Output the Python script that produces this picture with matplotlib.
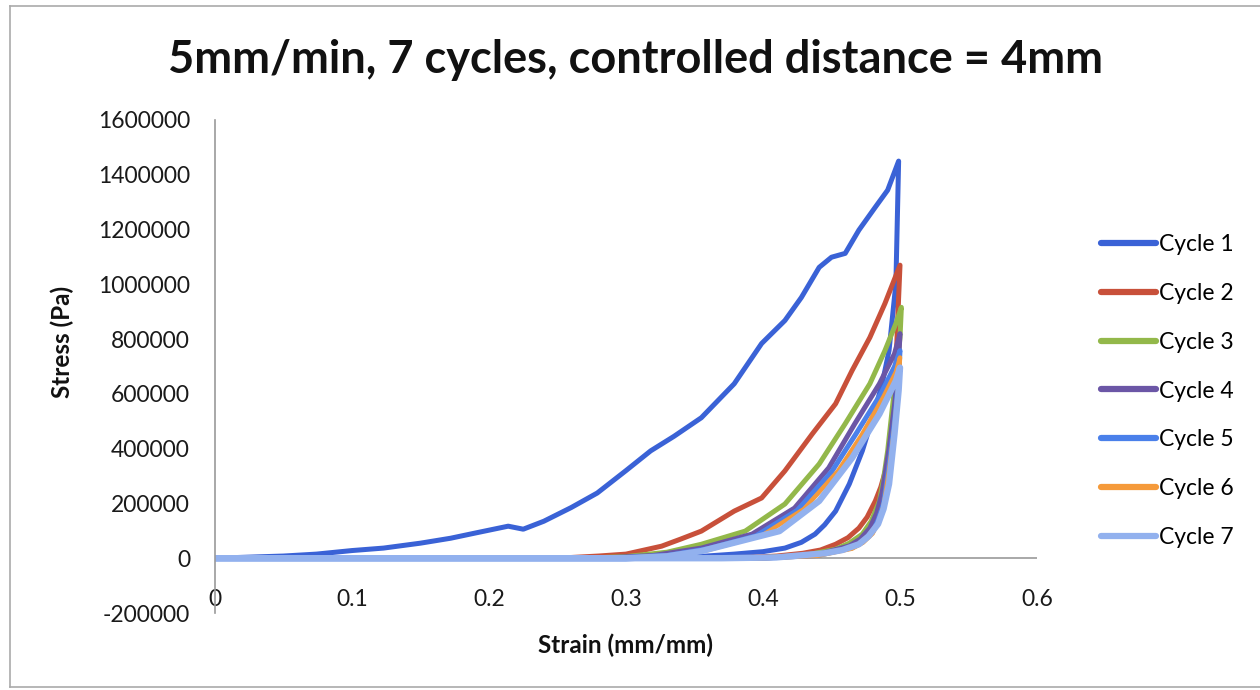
import matplotlib
matplotlib.use("Agg")
import matplotlib.pyplot as plt
from matplotlib.lines import Line2D

plt.rcParams['font.family'] = ['Lato', 'DejaVu Sans']

# strain (mm/mm) and stress (Pa), loading then unloading
c1_strain = [0, 0.05, 0.074, 0.1, 0.123, 0.15, 0.172, 0.19, 0.214, 0.225, 0.24, 0.26, 0.279, 0.30, 0.318, 0.335,
             0.355, 0.379, 0.399, 0.416, 0.428, 0.441, 0.45, 0.46, 0.47, 0.482, 0.491, 0.499,
             0.497, 0.492, 0.487, 0.48, 0.4725, 0.463, 0.453, 0.445, 0.438, 0.428, 0.416, 0.4, 0.379, 0.35, 0.3, 0]
c1_stress = [0, 8000, 15000, 28000, 37000, 55000, 73000, 92000, 117000, 106000, 135000, 185000, 238000, 320000, 392000, 445000,
             513000, 637000, 784000, 868000, 952000, 1062000, 1099000, 1113000, 1198000, 1282000, 1344000, 1450000,
             1004000, 758000, 637000, 513000, 392000, 271000, 172000, 122000, 88000, 58000, 37000, 24000, 15000, 5000, 0, 0]

c2_strain = [0, 0.25, 0.28, 0.3, 0.326, 0.34, 0.355, 0.379, 0.399, 0.416, 0.436, 0.453, 0.465, 0.478, 0.489, 0.5,
             0.499, 0.497, 0.495, 0.49, 0.486, 0.482, 0.476, 0.47, 0.462, 0.453, 0.442, 0.429, 0.41, 0.39, 0.3, 0]
c2_stress = [0, 0, 8000, 15000, 44000, 70000, 99000, 172000, 220000, 319000, 454000, 564000, 685000, 806000, 930000, 1070000,
             952000, 700000, 513000, 330000, 260000, 209000, 150000, 110000, 75000, 51000, 30000, 18000, 8000, 3000, 0, 0]

c3_strain = [0, 0.27, 0.3, 0.33, 0.355, 0.387, 0.416, 0.441, 0.46, 0.478, 0.489, 0.497, 0.501,
             0.5, 0.495, 0.491, 0.488, 0.485, 0.479, 0.4725, 0.463, 0.453, 0.43, 0.39, 0]
c3_stress = [0, 0, 6000, 22000, 51000, 99000, 198000, 344000, 491000, 637000, 758000, 857000, 916000,
             806000, 575000, 392000, 290000, 209000, 135000, 88000, 55000, 33000, 10000, 0, 0]

c4_strain = [0, 0.28, 0.32, 0.355, 0.392, 0.423, 0.448, 0.467, 0.485, 0.496, 0.5,
             0.499, 0.496, 0.492, 0.487, 0.483, 0.478, 0.471, 0.463, 0.44, 0.4, 0]
c4_stress = [0, 0, 10000, 37000, 88000, 183000, 330000, 491000, 637000, 747000, 820000,
             720000, 560000, 400000, 240000, 165000, 110000, 70000, 45000, 14000, 0, 0]

c5_strain = [0, 0.29, 0.33, 0.36, 0.395, 0.425, 0.45, 0.468, 0.486, 0.496, 0.5,
             0.499, 0.496, 0.492, 0.488, 0.484, 0.48, 0.473, 0.465, 0.44, 0.4, 0]
c5_stress = [0, 0, 10000, 35000, 82000, 175000, 315000, 455000, 600000, 700000, 758000,
             660000, 500000, 340000, 200000, 140000, 95000, 60000, 38000, 10000, 0, 0]

c6_strain = [0, 0.29, 0.33, 0.36, 0.4, 0.43, 0.455, 0.472, 0.488, 0.497, 0.5,
             0.499, 0.496, 0.492, 0.488, 0.484, 0.48, 0.473, 0.465, 0.44, 0.4, 0]
c6_stress = [0, 0, 8000, 30000, 85000, 180000, 320000, 450000, 590000, 680000, 733000,
             640000, 480000, 320000, 190000, 130000, 90000, 57000, 35000, 9000, 0, 0]

c7_strain = [0, 0.3, 0.33, 0.355, 0.412, 0.441, 0.465, 0.485, 0.497, 0.5,
             0.499, 0.496, 0.492, 0.488, 0.484, 0.477, 0.47, 0.458, 0.445, 0.41, 0.37, 0]
c7_stress = [0, 0, 7000, 26000, 99000, 209000, 366000, 527000, 648000, 696000,
             612000, 454000, 271000, 180000, 125000, 80000, 51000, 30000, 18000, 3000, 0, 0]

labels = ['Cycle 1', 'Cycle 2', 'Cycle 3', 'Cycle 4', 'Cycle 5', 'Cycle 6', 'Cycle 7']
colors = ['#3a62d6', '#c8503a', '#93b84a', '#6b56a6', '#4a80ea', '#f59a3a', '#92b1ee']
widths = [3.6, 3.6, 3.6, 3.6, 3.6, 3.2, 4.6]

xticks = [0, 0.1, 0.2, 0.3, 0.4, 0.5, 0.6]
yticks = [-200000, 0, 200000, 400000, 600000, 800000, 1000000, 1200000, 1400000, 1600000]

series = [(c1_strain, c1_stress), (c2_strain, c2_stress), (c3_strain, c3_stress), (c4_strain, c4_stress),
          (c5_strain, c5_stress), (c6_strain, c6_stress), (c7_strain, c7_stress)]

fig = plt.figure(figsize=(12.6, 6.9), dpi=100)
ax = fig.add_axes([215 / 1260, 1 - 613 / 690, (1037 - 215) / 1260, (613 - 120) / 690])

for (sx, sy), lab, col, lw in zip(series, labels, colors, widths):
    ax.plot(sx, sy, color=col, lw=lw, label=lab, solid_joinstyle='round', solid_capstyle='round')

ax.axhline(0, color='#9a9a9a', lw=1.2, zorder=0.5)
ax.set_xlim(0, 0.6)
ax.set_ylim(-200000, 1600000)
ax.set_xticks(xticks)
ax.set_xticklabels([f'{t:g}' for t in xticks])
ax.set_yticks(yticks)
ax.set_yticklabels([str(t) for t in yticks])
ax.tick_params(axis='both', length=0, labelsize=16.5, colors='#1a1a1a')
ax.tick_params(axis='y', pad=18)
ax.tick_params(axis='x', pad=-17)
for side in ['top', 'right', 'bottom']:
    ax.spines[side].set_visible(False)
ax.spines['left'].set_color('#9a9a9a')
ax.spines['left'].set_linewidth(1.2)

fig.text(635 / 1260, 1 - 60 / 690, '5mm/min, 7 cycles, controlled distance = 4mm', ha='center', va='center',
         fontsize=32.5, fontweight='bold', color='#111111')
fig.text(626 / 1260, 1 - 645 / 690, 'Strain (mm/mm)', ha='center', va='center',
         fontsize=17.5, fontweight='bold', color='#111111')
fig.text(62 / 1260, 1 - 342 / 690, 'Stress (Pa)', ha='center', va='center', rotation=90,
         fontsize=17.5, fontweight='bold', color='#111111')

handles = [Line2D([0], [0], color=c, lw=4.5, solid_capstyle='round') for c in colors]
leg = fig.legend(handles, labels, loc='center left', bbox_to_anchor=(1090 / 1260, 1 - 391 / 690),
                 frameon=False, fontsize=16.5, handlelength=2.4, handletextpad=0.1,
                 labelspacing=1.22, borderpad=0)

# thin frame round the whole chart
fig.add_artist(Line2D([10 / 1260, 10 / 1260], [1 - 687 / 690, 1 - 6 / 690], color='#aaaaaa', lw=1.2))
fig.add_artist(Line2D([10 / 1260, 1], [1 - 6 / 690, 1 - 6 / 690], color='#aaaaaa', lw=1.2))
fig.add_artist(Line2D([10 / 1260, 1], [1 - 687 / 690, 1 - 687 / 690], color='#aaaaaa', lw=1.2))

fig.savefig('out.png', dpi=100)
